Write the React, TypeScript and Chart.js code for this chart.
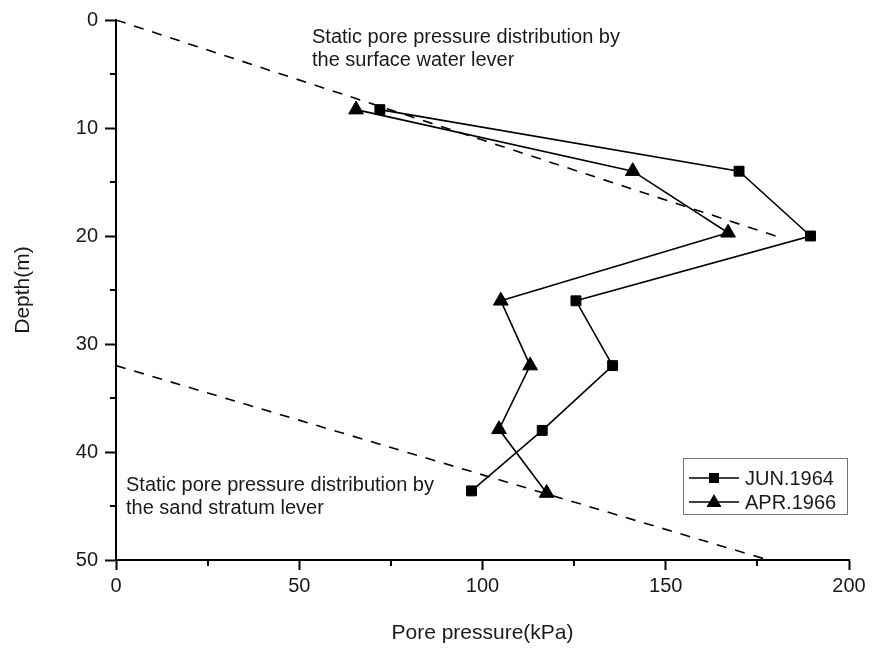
import React, { useEffect, useRef } from 'react';
import { Chart, registerables } from 'chart.js';

Chart.register(...registerables);

// Data
const junDepths = [8.3, 14, 20, 26, 32, 38, 43.6];
const junPressure = [72, 170, 189.5, 125.5, 135.5, 116.3, 97];
const aprDepths = [8.3, 14, 19.7, 26, 32, 37.9, 43.8];
const aprPressure = [65.5, 141, 167, 105, 113, 104.5, 117.5];

const surfaceLinePressure = [0, 180];
const surfaceLineDepth = [0, 20];
const sandLinePressure = [0, 178];
const sandLineDepth = [32, 50];

const xMajorTicks = [0, 50, 100, 150, 200];
const xMinorTicks = [25, 75, 125, 175];
const yMajorTicks = [0, 10, 20, 30, 40, 50];
const yMinorTicks = [5, 15, 25, 35, 45];

const seriesLabels = ['JUN.1964', 'APR.1966'];
const annotationTop = ['Static pore pressure distribution by', 'the surface water lever'];
const annotationBottom = ['Static pore pressure distribution by', 'the sand stratum lever'];

const FONT = '"Liberation Sans", Arial, sans-serif';

const toPoints = (xs: number[], ys: number[]) => xs.map((x, i) => ({ x, y: ys[i] }));

const extrasPlugin = {
  id: 'extras',
  afterDraw(chart: any) {
    const ctx = chart.ctx as CanvasRenderingContext2D;
    const xs = chart.scales.x;
    const ys = chart.scales.y;
    const area = chart.chartArea;
    ctx.save();
    // minor ticks
    ctx.strokeStyle = '#000';
    ctx.lineWidth = 2;
    ctx.beginPath();
    xMinorTicks.forEach((v) => {
      const px = Math.round(xs.getPixelForValue(v));
      ctx.moveTo(px, area.bottom);
      ctx.lineTo(px, area.bottom + 6);
    });
    yMinorTicks.forEach((v) => {
      const py = Math.round(ys.getPixelForValue(v));
      ctx.moveTo(area.left, py);
      ctx.lineTo(area.left - 6, py);
    });
    ctx.stroke();

    // annotations
    ctx.fillStyle = '#1a1a1a';
    ctx.font = `20px ${FONT}`;
    ctx.textBaseline = 'alphabetic';
    ctx.textAlign = 'left';
    ctx.fillText(annotationTop[0], 312, 43);
    ctx.fillText(annotationTop[1], 312, 66);
    ctx.fillText(annotationBottom[0], 126, 491);
    ctx.fillText(annotationBottom[1], 126, 514);

    // legend
    const bx = 683, by = 458, bw = 164, bh = 56;
    ctx.fillStyle = '#fff';
    ctx.fillRect(bx, by, bw, bh);
    ctx.strokeStyle = '#777';
    ctx.lineWidth = 1;
    ctx.strokeRect(bx + 0.5, by + 0.5, bw, bh);
    const rows = [478, 502];
    rows.forEach((ry, i) => {
      ctx.strokeStyle = '#000';
      ctx.lineWidth = 1.6;
      ctx.beginPath();
      ctx.moveTo(689, ry);
      ctx.lineTo(739, ry);
      ctx.stroke();
      ctx.fillStyle = '#000';
      const cx = 714;
      if (i === 0) {
        ctx.fillRect(cx - 5, ry - 5, 10, 10);
      } else {
        ctx.beginPath();
        ctx.moveTo(cx, ry - 8);
        ctx.lineTo(cx + 7.5, ry + 5);
        ctx.lineTo(cx - 7.5, ry + 5);
        ctx.closePath();
        ctx.fill();
      }
      ctx.fillStyle = '#1a1a1a';
      ctx.font = `20px ${FONT}`;
      ctx.textBaseline = 'middle';
      ctx.fillText(seriesLabels[i], 745, ry + 1);
    });
    ctx.restore();
  },
};

export default function App() {
  const canvasRef = useRef<HTMLCanvasElement | null>(null);

  useEffect(() => {
    if (!canvasRef.current) return;
    const chart = new Chart(canvasRef.current, {
      type: 'scatter',
      data: {
        datasets: [
          {
            label: 'surface',
            data: toPoints(surfaceLinePressure, surfaceLineDepth),
            showLine: true,
            borderColor: '#000',
            borderWidth: 1.6,
            borderDash: [10, 9],
            pointRadius: 0,
          },
          {
            label: 'sand',
            data: toPoints(sandLinePressure, sandLineDepth),
            showLine: true,
            borderColor: '#000',
            borderWidth: 1.6,
            borderDash: [10, 9],
            pointRadius: 0,
          },
          {
            label: seriesLabels[0],
            data: toPoints(junPressure, junDepths),
            showLine: true,
            borderColor: '#000',
            backgroundColor: '#000',
            borderWidth: 1.6,
            pointStyle: 'rect',
            pointRadius: 7,
            pointBorderWidth: 1,
          },
          {
            label: seriesLabels[1],
            data: toPoints(aprPressure, aprDepths),
            showLine: true,
            borderColor: '#000',
            backgroundColor: '#000',
            borderWidth: 1.6,
            pointStyle: 'triangle',
            pointRadius: 8.5,
            pointBorderWidth: 1,
          },
        ],
      },
      options: {
        animation: false,
        responsive: false,
        maintainAspectRatio: false,
        layout: { padding: { top: 20, right: 23, left: 0, bottom: 0 } },
        plugins: {
          legend: { display: false },
          tooltip: { enabled: false },
        },
        scales: {
          x: {
            type: 'linear',
            min: 0,
            max: 200,
            afterBuildTicks: (s: any) => {
              s.ticks = xMajorTicks.map((v) => ({ value: v }));
            },
            afterFit: (s: any) => {
              s.height = 88;
            },
            border: { display: true, color: '#000', width: 2 },
            grid: {
              drawOnChartArea: false,
              drawTicks: true,
              tickLength: 10,
              tickWidth: 2,
              tickColor: '#000',
            },
            ticks: {
              color: '#1a1a1a',
              font: { family: FONT, size: 20 },
              padding: 4,
              maxRotation: 0,
            },
            title: {
              display: true,
              text: 'Pore pressure(kPa)',
              color: '#1a1a1a',
              font: { family: FONT, size: 21 },
              padding: { top: 0, bottom: 2 },
            },
          },
          y: {
            type: 'linear',
            reverse: true,
            min: 0,
            max: 50,
            afterBuildTicks: (s: any) => {
              s.ticks = yMajorTicks.map((v) => ({ value: v }));
            },
            afterFit: (s: any) => {
              s.width = 116;
            },
            border: { display: true, color: '#000', width: 2 },
            grid: {
              drawOnChartArea: false,
              drawTicks: true,
              tickLength: 11,
              tickWidth: 2,
              tickColor: '#000',
            },
            ticks: {
              color: '#1a1a1a',
              font: { family: FONT, size: 20 },
              padding: 7,
            },
            title: {
              display: true,
              text: 'Depth(m)',
              color: '#1a1a1a',
              font: { family: FONT, size: 21 },
              padding: { top: 11, bottom: 0 },
            },
          },
        },
      },
      plugins: [extrasPlugin],
    });
    return () => chart.destroy();
  }, []);

  return (
    <div style={{ position: 'absolute', left: 0, top: 0, width: 872, height: 648, background: '#fff' }}>
      <canvas ref={canvasRef} width={872} height={648} style={{ display: 'block' }} />
    </div>
  );
}
